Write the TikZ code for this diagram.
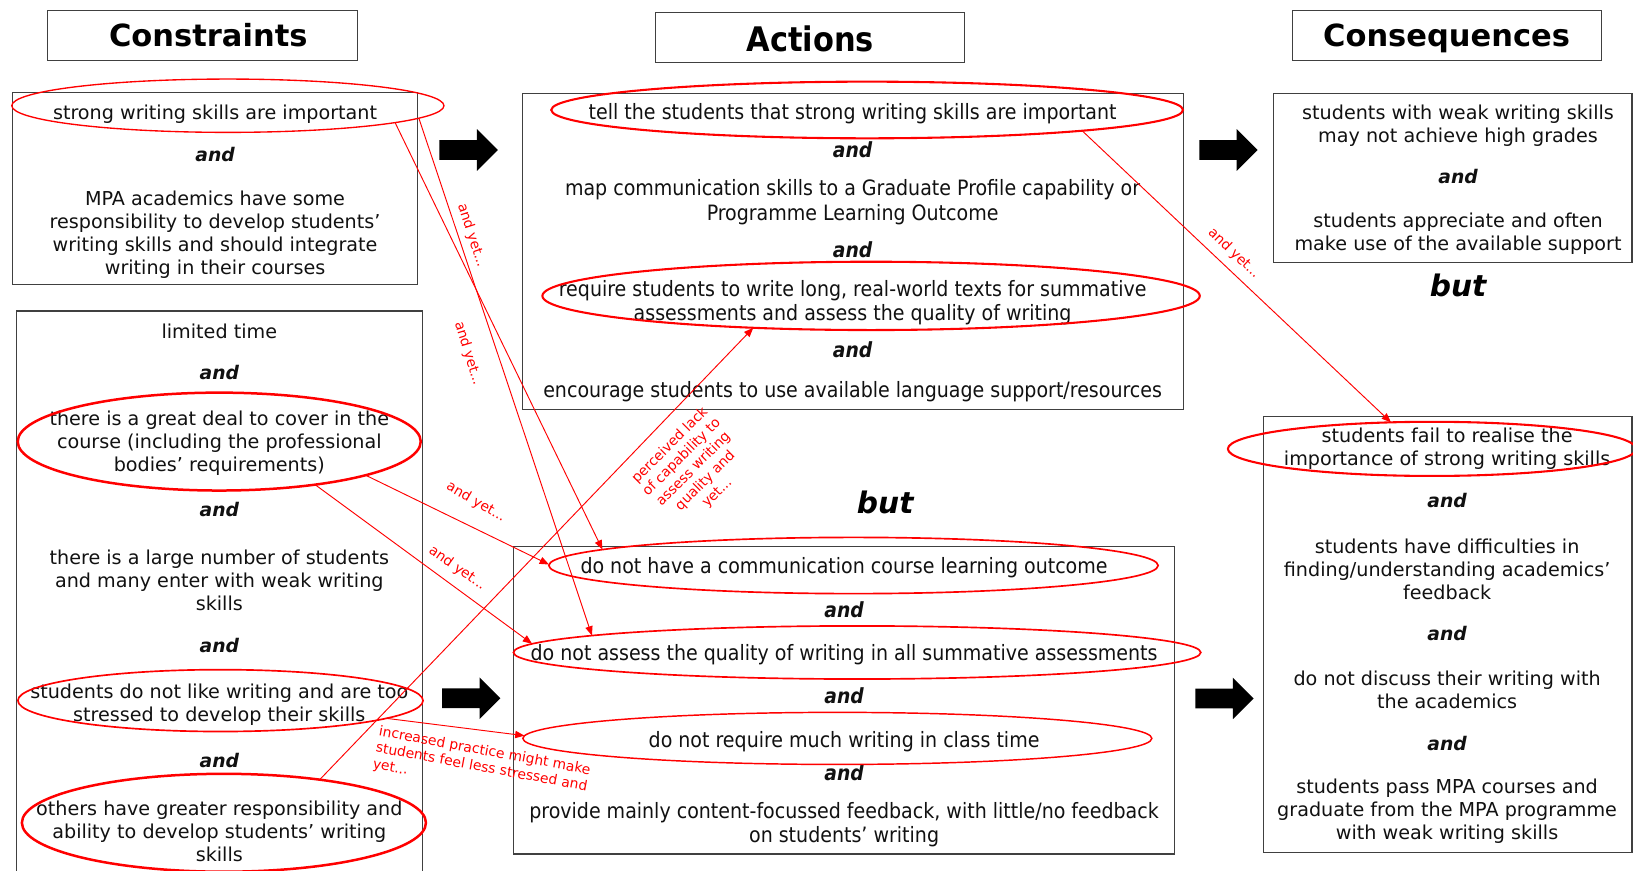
\documentclass[tikz,border=0pt]{standalone}
\usepackage{fontspec}
\setmainfont{DejaVu Sans}
\IfFontExistsTF{DejaVu Sans Condensed}
  {\newfontfamily\condfont{DejaVu Sans Condensed}}
  {\newfontfamily\condfont{DejaVu Sans}[FakeStretch=0.9]}
\usetikzlibrary{shapes.geometric,arrows.meta,calc}
\definecolor{ink}{HTML}{111111}
\definecolor{framegray}{HTML}{404040}

\tikzset{
  boxed/.style={draw=framegray, line width=1pt, inner sep=0pt, outer sep=0pt},
  side/.style={text=ink, align=center, inner sep=0pt, yshift=-2pt, font=\fontsize{18.4}{22.2}\selectfont},
  mid/.style={text=ink, align=center, inner sep=0pt, yshift=-2pt, font=\condfont\fontsize{20.3}{23.5}\selectfont},
  sideand/.style={text=ink, inner sep=0pt, font=\fontsize{18}{22}\selectfont\bfseries\itshape},
  midand/.style={text=ink, inner sep=0pt, font=\condfont\fontsize{20}{23}\selectfont\bfseries\itshape},
  hdr/.style={text=black, inner sep=0pt, font=\fontsize{29.3}{34}\selectfont\bfseries},
  midhdr/.style={text=black, inner sep=0pt, font=\condfont\fontsize{32.5}{38}\selectfont\bfseries},
  butword/.style={text=black, inner sep=0pt, font=\fontsize{28.5}{34}\selectfont\bfseries\itshape},
  ring/.style={ellipse, draw=red, line width=1.6pt, inner sep=0pt, outer sep=0pt},
  link/.style={draw=red, line width=0.9pt, -{Triangle[length=9pt,width=7pt]}},
  note/.style={text=red, inner sep=0pt, font=\fontsize{13.3}{16}\selectfont},
  fatarrow/.pic={\fill[black] (-28,-9.5) -- (8,-9.5) -- (8,-20) -- (28,0)
                  -- (8,20) -- (8,9.5) -- (-28,9.5) -- cycle;},
}

\begin{document}
\begin{tikzpicture}[x=1pt,y=-1pt]
\useasboundingbox (0,0) rectangle (1568,836);
\fill[white] (0,0) rectangle (1568,836);
\clip (0,0) rectangle (1568,836);

% column headings
\node[boxed, minimum width=297pt, minimum height=48.2pt] (hc) at (194.5,34.4) {};
\node[boxed, minimum width=296.6pt, minimum height=48pt] (ha) at (777.6,36.2) {};
\node[boxed, minimum width=296.7pt, minimum height=48pt] (hq) at (1389.5,34.2) {};
\node[hdr] (hct) at (200,34) {Constraints};
\node[midhdr] (hat) at (778,37) {Actions};
\node[hdr] (hqt) at (1389,36.5) {Consequences};

% frames
\node[boxed, minimum width=388.1pt, minimum height=184.6pt] (c1) at (206.45,181.3) {};
\node[boxed, minimum width=390.2pt, minimum height=551.4pt] (c2) at (210.6,574.3) {};
\node[boxed, minimum width=634.5pt, minimum height=303.4pt] (a1) at (818.75,241.3) {};
\node[boxed, minimum width=635pt, minimum height=295pt] (a2) at (810.5,672.5) {};
\node[boxed, minimum width=344pt, minimum height=162.5pt] (r1) at (1395,170.75) {};
\node[boxed, minimum width=354pt, minimum height=419pt] (r2) at (1390,609.5) {};

% constraints
\node[side] (c1a) at (206.5,107.2) {strong writing skills are important};
\node[sideand] (c1and) at (206.5,148) {and};
\node[side] (c1b) at (206.5,223.2) {MPA academics have some\\responsibility to develop students’\\writing skills and should integrate\\writing in their courses};

\node[side] (c2a) at (210.6,316) {limited time};
\node[sideand] (c2and1) at (210.6,357.5) {and};
\node[side] (c2b) at (210.6,423.5) {there is a great deal to cover in the\\course (including the professional\\bodies’ requirements)};
\node[sideand] (c2and2) at (210.6,489) {and};
\node[side] (c2c) at (210.6,555) {there is a large number of students\\and many enter with weak writing\\skills};
\node[sideand] (c2and3) at (210.6,620) {and};
\node[side] (c2d) at (210.6,675) {students do not like writing and are too\\stressed to develop their skills};
\node[sideand] (c2and4) at (210.6,730) {and};
\node[side] (c2e) at (210.6,796) {others have greater responsibility and\\ability to develop students’ writing\\skills};

% actions
\node[mid] (a1a) at (818.7,107.2) {tell the students that strong writing skills are important};
\node[midand] (a1and1) at (818.7,144) {and};
\node[mid] (a1b) at (818.7,192.3) {map communication skills to a Graduate Profile capability or\\Programme Learning Outcome};
\node[midand] (a1and2) at (818.7,240) {and};
\node[mid] (a1c) at (818.7,288.8) {require students to write long, real-world texts for summative\\assessments and assess the quality of writing};
\node[midand] (a1and3) at (818.7,336) {and};
\node[mid] (a1d) at (818.7,374.5) {encourage students to use available language support/resources};

\node[butword] (midbut) at (850,482) {but};

\node[mid] (a2a) at (810.5,543.5) {do not have a communication course learning outcome};
\node[midand] (a2and1) at (810.5,585) {and};
\node[mid] (a2b) at (810.5,627) {do not assess the quality of writing in all summative assessments};
\node[midand] (a2and2) at (810.5,668) {and};
\node[mid] (a2c) at (810.5,710.5) {do not require much writing in class time};
\node[midand] (a2and3) at (810.5,742) {and};
\node[mid] (a2d) at (810.5,790) {provide mainly content-focussed feedback, with little/no feedback\\on students’ writing};

% consequences
\node[side] (r1a) at (1400,118.4) {students with weak writing skills\\may not achieve high grades};
\node[sideand] (r1and) at (1400,169.6) {and};
\node[side] (r1b) at (1400,222.7) {students appreciate and often\\make use of the available support};

\node[butword] (rightbut) at (1400,273.6) {but};

\node[side] (r2a) at (1389.5,428.8) {students fail to realise the\\importance of strong writing skills};
\node[sideand] (r2and1) at (1389.5,480.7) {and};
\node[side] (r2b) at (1389.5,544.8) {students have difficulties in\\finding/understanding academics’\\feedback};
\node[sideand] (r2and2) at (1389.5,608) {and};
\node[side] (r2c) at (1389.5,660.6) {do not discuss their writing with\\the academics};
\node[sideand] (r2and3) at (1389.5,713.7) {and};
\node[side] (r2d) at (1389.5,777) {students pass MPA courses and\\graduate from the MPA programme\\with weak writing skills};

% highlighted items
\node[ring, line width=1.3pt, minimum width=415pt, minimum height=51.2pt] (e1) at (218.8,101.5) {};
\node[ring, line width=2.4pt, minimum width=387pt, minimum height=94pt] (e2) at (210.5,424) {};
\node[ring, line width=1.6pt, minimum width=389pt, minimum height=59.4pt] (e3) at (211.7,672.7) {};
\node[ring, line width=2.4pt, minimum width=388pt, minimum height=94pt] (e4) at (215,790) {};
\node[ring, line width=2pt, minimum width=606.6pt, minimum height=54.4pt] (e5) at (832.6,105.6) {};
\node[ring, line width=2pt, minimum width=631.2pt, minimum height=65.6pt] (e6) at (836.4,284.1) {};
\node[ring, line width=1.6pt, minimum width=585pt, minimum height=54pt] (e7) at (819.5,543) {};
\node[ring, line width=1.6pt, minimum width=660pt, minimum height=51pt] (e8) at (823,626.5) {};
\node[ring, line width=1.4pt, minimum width=604pt, minimum height=50pt] (e9) at (804,709) {};
\node[ring, line width=2pt, minimum width=392pt, minimum height=52pt] (e10) at (1375,431) {};

% connector end points on the rings
\coordinate (p1s) at ($(e1)+(39.3:207.5 and 25.6)$);
\coordinate (p1e) at ($(e7)+(214.5:292.5 and 27)$);
\coordinate (p2s) at ($(e1)+(27.9:207.5 and 25.6)$);
\coordinate (p2e) at ($(e8)+(219.5:330 and 25.5)$);
\coordinate (p3s) at ($(e2)+(43.4:193.5 and 47)$);
\coordinate (p3e) at ($(e7)+(182:292.5 and 27)$);
\coordinate (p4s) at ($(e2)+(61.6:193.5 and 47)$);
\coordinate (p4e) at ($(e8)+(199:330 and 25.5)$);
\coordinate (p5s) at ($(e3)+(35:194.5 and 29.7)$);
\coordinate (p5e) at ($(e9)+(186:302 and 25)$);
\coordinate (p6s) at ($(e4)+(-61.7:194 and 47)$);
\coordinate (p6e) at ($(e6)+(111:315.6 and 32.8)$);
\coordinate (p7s) at ($(e5)+(47.1:303.3 and 27.2)$);
\coordinate (p7e) at ($(e10)+(258.4:196 and 26)$);

\draw[link] (p1s) -- (p1e);
\draw[link] (p2s) -- (p2e);
\draw[link] (p3s) -- (p3e);
\draw[link] (p4s) -- (p4e);
\draw[link] (p5s) -- (p5e);
\draw[link] (p6s) -- (p6e);
\draw[link] (p7s) -- (p7e);

% connector labels
\node[note, rotate=-72] (n1) at (452.8,226) {and yet...};
\node[note, rotate=-73] (n2) at (449.5,339.5) {and yet...};
\node[note, rotate=-30] (n3) at (457,482) {and yet...};
\node[note, rotate=-35] (n4) at (439,545.8) {and yet...};
\node[note, rotate=-44] (n7) at (1184.8,243.2) {and yet...};
\node[note, rotate=45, align=center] (n6) at (666,450.5) {perceived lack\\of capability to\\assess writing\\quality and\\yet...};
\node[note, rotate=-10.5, align=left, anchor=north west] (n5) at (365,696) {increased practice might make\\students feel less stressed and\\yet...};

% block arrows between the columns
\pic at (450,144) {fatarrow};
\pic at (1179.5,144) {fatarrow};
\pic at (452.5,670.5) {fatarrow};
\pic at (1175.7,670.6) {fatarrow};
\end{tikzpicture}
\end{document}
